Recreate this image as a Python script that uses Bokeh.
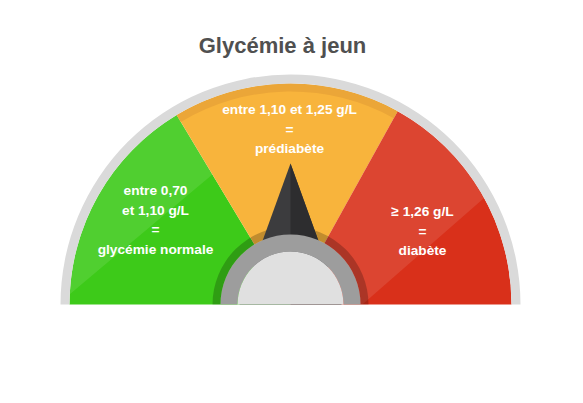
import numpy as np
from bokeh.plotting import figure
from bokeh.models import Range1d
from bokeh.core.properties import value
from bokeh.embed import file_html
from bokeh.resources import INLINE

# ---------------- data ----------------
title = "Glycémie à jeun"
zone_names = ["glycémie normale", "prédiabète", "diabète"]
zone_start_deg = [121, 61, 0]
zone_end_deg = [180, 121, 61]
zone_colors = ["#3dca19", "#f8b43c", "#d9301a"]
zone_labels = [
    ["entre 0,70", "et 1,10 g/L", "=", "glycémie normale"],
    ["entre 1,10 et 1,25 g/L", "=", "prédiabète"],
    ["≥ 1,26 g/L", "=", "diabète"],
]
label_x = [155, 289, 422]          # screen px
label_y = [219.5, 128.5, 230.5]    # screen px (block centre)
needle_angle_deg = 90

# ---------------- layout ----------------
W, H = 583, 403
cx, cy = 290, H - 304
R_OUT, R_ZONE = 230, 221
R_DARK, R_HUB, R_CORE = 78, 70, 53
FONT = "Liberation Sans"
rad = np.radians

p = figure(width=W, height=H, x_range=Range1d(0, W), y_range=Range1d(0, H),
           x_axis_type=None, y_axis_type=None, toolbar_location=None,
           output_backend="svg", min_border=0)
p.grid.visible = False
p.outline_line_color = None
p.background_fill_color = "white"

# zones
p.annular_wedge(x=[cx] * 3, y=[cy] * 3, inner_radius=0, outer_radius=R_ZONE,
                start_angle=list(rad(zone_start_deg)), end_angle=list(rad(zone_end_deg)),
                fill_color=zone_colors, line_color=None)


def sector_poly(a0, a1, r, n=120):
    t = np.radians(np.linspace(a0, a1, n))
    xs = np.concatenate([[cx], cx + r * np.cos(t)])
    ys = np.concatenate([[cy], cy + r * np.sin(t)])
    return list(zip(xs, ys))


def clip(poly, p1, p2, keep):
    def side(q):
        return (p2[0] - p1[0]) * (q[1] - p1[1]) - (p2[1] - p1[1]) * (q[0] - p1[0])
    sk = np.sign(side(keep))
    out = []
    n = len(poly)
    for i in range(n):
        a, b = poly[i], poly[(i + 1) % n]
        sa, sb = side(a) * sk, side(b) * sk
        if sa >= 0:
            out.append(a)
        if sa * sb < 0:
            t = sa / (sa - sb)
            out.append((a[0] + t * (b[0] - a[0]), a[1] + t * (b[1] - a[1])))
    return out


# light diagonal sheen (decoration)
sheen = []
g = clip(sector_poly(zone_start_deg[0], zone_end_deg[0], R_ZONE),
         (70, H - 293), (237, H - 153), (100, H - 150))
sheen.append(g)
r_ = clip(sector_poly(zone_start_deg[2], zone_end_deg[2], R_ZONE),
          (507, H - 177), (363, H - 303), (400, H - 120))
sheen.append(r_)
p.patches(xs=[[float(q[0]) for q in s] for s in sheen],
          ys=[[float(q[1]) for q in s] for s in sheen],
          fill_color="white", fill_alpha=0.1, line_color=None)

# darker rim on the middle zone
p.annular_wedge(x=cx, y=cy, inner_radius=213, outer_radius=R_ZONE,
                start_angle=float(rad(zone_start_deg[1])), end_angle=float(rad(zone_end_deg[1])),
                fill_color="#eba638", line_color=None)

# dark ring around hub
p.annular_wedge(x=cx, y=cy, inner_radius=R_HUB, outer_radius=R_DARK,
                start_angle=0, end_angle=np.pi,
                fill_color="black", fill_alpha=0.22, line_color=None)

# needle
a = rad(needle_angle_deg)
L, hw = 141, 51
tip = (cx + L * np.cos(a), cy + L * np.sin(a))
perp = (np.cos(a + np.pi / 2), np.sin(a + np.pi / 2))
bl = (cx + hw * perp[0], cy + hw * perp[1])
br = (cx - hw * perp[0], cy - hw * perp[1])
p.patch(x=[tip[0], bl[0], br[0]], y=[tip[1], bl[1], br[1]], fill_color="#3c3c3e", line_color=None)
p.patch(x=[tip[0], br[0], cx], y=[tip[1], br[1], cy], fill_color="#2d2d2f", line_color=None)

# hub
p.annular_wedge(x=cx, y=cy, inner_radius=R_CORE, outer_radius=R_HUB,
                start_angle=0, end_angle=np.pi,
                fill_color="#9d9d9d", line_color=None)
p.wedge(x=cx, y=cy, radius=R_CORE, start_angle=0, end_angle=np.pi,
        fill_color="#e0e0e0", line_color=None)

# outer grey ring
p.annular_wedge(x=cx, y=cy, inner_radius=R_ZONE, outer_radius=R_OUT,
                start_angle=0, end_angle=np.pi,
                fill_color="#dadada", line_color=None)

# labels
tx, ty, tt = [], [], []
step = 19.5
for lines, x0, y0 in zip(zone_labels, label_x, label_y):
    n = len(lines)
    for i, s in enumerate(lines):
        tx.append(x0)
        ty.append(H - (y0 + (i - (n - 1) / 2) * step))
        tt.append(s)
p.text(x=tx, y=ty, text=tt, text_font=value(FONT), text_font_style="bold",
       text_font_size="13.7px", text_color="white", text_align="center",
       text_baseline="middle")

# title
p.text(x=[282], y=[H - 45], text=[title], text_font=value(FONT), text_font_style="bold",
       text_font_size="22px", text_color="#505050", text_align="center",
       text_baseline="middle")

open("out.html", "w").write(file_html(p, INLINE))
